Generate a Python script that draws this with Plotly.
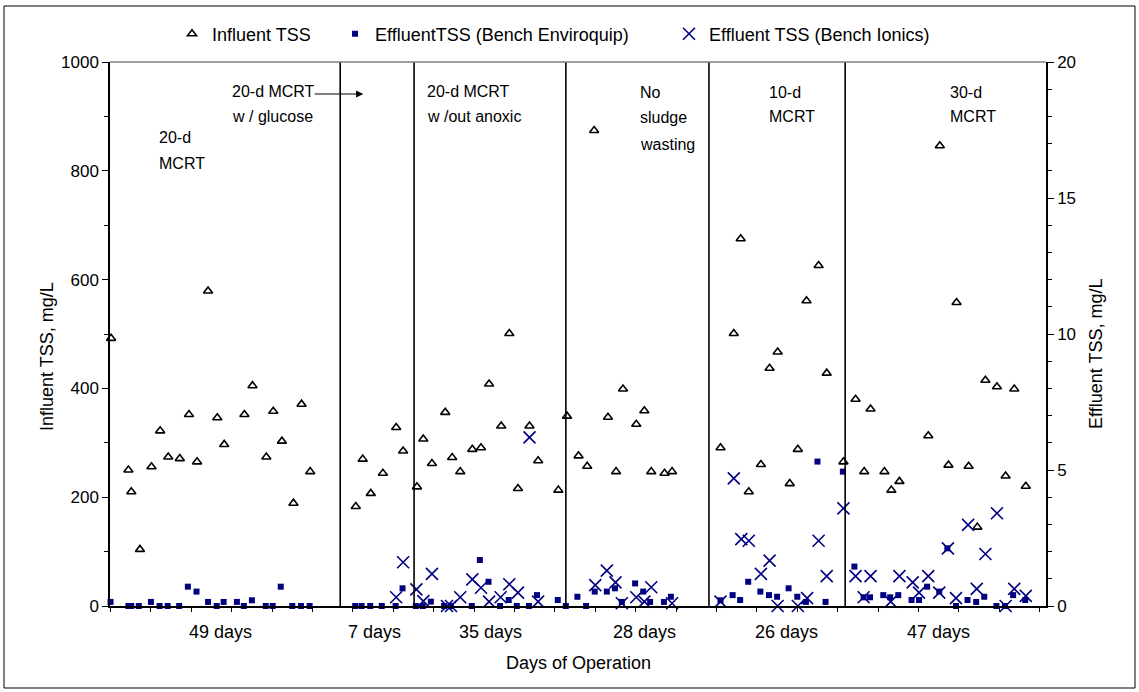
import plotly.graph_objects as go

# ---------------- data ----------------
# x = day of operation (sampling position)
inf_day = [0.1, 3.1, 3.6, 5.1, 7.1, 8.6, 10.0, 12.0, 13.6, 15.0, 16.9, 18.5, 19.7, 23.2, 24.6,
           27.0, 28.2, 29.7, 31.7, 33.1, 34.6,
           42.5, 43.7, 45.1, 47.2, 49.5, 50.7,
           53.1, 54.2, 55.7, 58.0, 59.2, 60.6, 62.7, 64.2, 65.6, 67.7, 69.1, 70.6, 72.6, 74.1, 77.6,
           79.1, 81.1, 82.6, 83.8, 86.2, 87.6, 88.8, 91.1, 92.5, 93.7, 96.0, 97.3,
           105.7, 108.0, 109.2, 110.6, 112.7, 114.2, 115.6, 117.7, 119.1, 120.6, 122.7, 124.1, 127.0,
           129.1, 130.6, 131.7, 134.1, 135.3, 136.7, 141.7, 143.7, 145.2, 146.6, 148.7, 150.2, 151.6,
           153.6, 155.1, 156.6, 158.6]
inf_tss = [492, 250, 210, 104, 256, 322, 274, 271, 352, 265, 579, 346, 297, 352, 405,
           274, 358, 303, 189, 371, 247,
           183, 270, 207, 244, 328, 285,
           219, 307, 262, 356, 273, 247, 288, 291, 408, 331, 501, 216, 331, 267, 213,
           349, 276, 257, 874, 347, 247, 399, 334, 359, 247, 244, 247,
           291, 501, 675, 210, 260, 437, 467, 225, 288, 561, 626, 428, 265,
           380, 247, 362, 247, 213, 229, 313, 846, 259, 558, 257, 145, 415,
           403, 239, 399, 220]

env_day = [0.0, 3.1, 3.6, 4.9, 7.0, 8.5, 9.9, 11.9, 13.4, 14.9, 16.9, 18.4, 19.6, 21.9, 23.1,
           24.5, 26.9, 28.1, 29.5, 31.5, 33.0, 34.5,
           42.4, 43.5, 45.0, 47.0, 49.4, 50.6,
           52.9, 54.1, 55.5, 57.8, 59.0, 62.6, 64.0, 65.5, 67.5, 69.0, 70.4, 72.5, 73.9, 77.5,
           78.9, 80.9, 82.4, 83.9, 86.0, 87.4, 88.6, 90.9, 92.3, 93.5, 95.9, 97.1,
           105.7, 107.8, 109.1, 110.5, 112.6, 114.1, 115.5, 117.5, 119.0, 120.5, 122.5, 123.9, 126.9,
           128.9, 130.5, 131.6, 133.9, 135.1, 136.5, 138.8, 140.1, 141.5, 143.6, 145.0, 146.5,
           148.5, 150.0, 151.4, 153.5, 155.0, 156.4, 158.5]
env_tss = [0.15, 0.0, 0.0, 0.0, 0.15, 0.0, 0.0, 0.0, 0.71, 0.53, 0.15, 0.0, 0.15, 0.15, 0.0,
           0.21, 0.0, 0.0, 0.71, 0.0, 0.0, 0.0,
           0.0, 0.0, 0.0, 0.0, 0.0, 0.65,
           0.0, 0.0, 0.16, 0.0, 0.0, 0.0, 1.69, 0.89, 0.0, 0.22, 0.0, 0.0, 0.40, 0.22,
           0.0, 0.34, 0.0, 0.53, 0.53, 0.65, 0.15, 0.83, 0.53, 0.15, 0.15, 0.34,
           0.21, 0.40, 0.22, 0.89, 0.53, 0.40, 0.34, 0.65, 0.34, 0.15, 5.31, 0.15, 4.94,
           1.45, 0.32, 0.32, 0.40, 0.32, 0.40, 0.22, 0.22, 0.71, 0.53, 2.12, 0.0,
           0.22, 0.15, 0.34, 0.0, 0.0, 0.40, 0.22]

ion_day = [49.5, 50.7,
           53.0, 54.2, 55.7, 58.3, 59.0, 60.6, 62.7, 64.2, 65.6, 67.6, 69.1, 70.6, 72.6, 74.1,
           84.0, 86.0, 87.5, 88.6, 91.1, 92.5, 93.7, 97.3,
           105.7, 108.0, 109.3, 110.6, 112.7, 114.2, 115.6, 119.1, 120.7, 122.7, 124.1, 127.0,
           129.1, 130.5, 131.7, 135.2, 136.7, 139.0, 140.1, 141.7, 143.6, 145.1, 146.5, 148.6,
           150.1, 151.6, 153.6, 155.1, 156.6, 158.6]
ion_tss = [0.32, 1.61,
           0.61, 0.18, 1.18, 0.0, 0.0, 0.32, 0.98, 0.67, 0.16, 0.32, 0.80, 0.49, 6.20, 0.16,
           0.77, 1.30, 0.87, 0.10, 0.32, 0.16, 0.69, 0.10,
           0.16, 4.69, 2.46, 2.40, 1.18, 1.67, 0.0, 0.0, 0.29, 2.40, 1.10, 3.59,
           1.10, 0.32, 1.10, 0.16, 1.10, 0.87, 0.49, 1.10, 0.49, 2.12, 0.29, 2.98,
           0.63, 1.91, 3.41, 0.0, 0.63, 0.37]

phase_bounds = [39.8, 52.6, 78.9, 103.7, 127.3]
phase_label_day = [19.0, 45.7, 65.9, 92.6, 117.2, 143.4]
phase_labels = ["49 days", "7 days", "35 days", "28 days", "26 days", "47 days"]

# ---------------- figure ----------------
W, H = 1139, 692
L, R, T, B = 110, 93, 62, 86
PW, PH = W - L - R, H - T - B
FONT = "Liberation Sans, Arial, sans-serif"
NAVY = "#000080"


def px2paper_y(py):
    return (H - B - py) / PH


def px2paper_x(px):
    return (px - L) / PW


fig = go.Figure()
fig.add_trace(go.Scatter(
    x=inf_day, y=inf_tss, mode="markers", name="Influent TSS", legend="legend",
    marker=dict(symbol="triangle-up-open", size=8, color="black", line=dict(width=1.6, color="black")),
    cliponaxis=False, yaxis="y"))
fig.add_trace(go.Scatter(
    x=env_day, y=env_tss, mode="markers", name="EffluentTSS (Bench Enviroquip)", legend="legend2",
    marker=dict(symbol="square", size=6, color=NAVY),
    cliponaxis=False, yaxis="y2"))
fig.add_trace(go.Scatter(
    x=ion_day, y=ion_tss, mode="markers", name="Effluent TSS (Bench Ionics)", legend="legend3",
    marker=dict(symbol="x-thin-open", size=12, color=NAVY, line=dict(width=1.6, color=NAVY)),
    cliponaxis=False, yaxis="y2"))

shapes = []
for b in phase_bounds:
    shapes.append(dict(type="line", xref="x", yref="paper", x0=b, x1=b, y0=0, y1=1,
                       line=dict(color="black", width=1.6)))
# plot-area top border (grey)
shapes.append(dict(type="line", xref="paper", yref="paper", x0=0, x1=1, y0=1, y1=1,
                   line=dict(color="#808080", width=1.5)))
# outer chart border
shapes.append(dict(type="rect", xref="paper", yref="paper",
                   x0=px2paper_x(4), x1=px2paper_x(1135), y0=px2paper_y(688), y1=px2paper_y(6),
                   line=dict(color="black", width=1), fillcolor="rgba(0,0,0,0)", layer="below"))

ann = []
for d, lab in zip(phase_label_day, phase_labels):
    ann.append(dict(x=d, y=px2paper_y(632), xref="x", yref="paper", text=lab, showarrow=False,
                    xanchor="center", yanchor="middle", font=dict(size=18)))

cond = [
    (8.1, [(138, "20-d"), (163, "MCRT")]),
    (20.7, [(91, "20-d MCRT"), (117, "w / glucose")]),
    (54.5, [(91, "20-d MCRT"), (117, "w /out anoxic")]),
    (91.4, [(92, "No"), (118, "sludge"), (144, "wasting")]),
    (113.8, [(92, "10-d"), (117, "MCRT")]),
    (145.1, [(92, "30-d"), (117, "MCRT")]),
]
for xd, lines in cond:
    for py, txt in lines:
        ann.append(dict(x=xd, y=px2paper_y(py), xref="x", yref="paper", text=txt, showarrow=False,
                        xanchor="left", yanchor="middle", font=dict(size=16)))

# arrow
ann.append(dict(x=43.8, y=px2paper_y(94), xref="x", yref="paper", text="", showarrow=True,
                ax=-50, ay=0, arrowhead=2, arrowsize=1.2, arrowwidth=1.2, arrowcolor="black"))
# axis titles
ann.append(dict(x=px2paper_x(35), y=px2paper_y(357), xref="paper", yref="paper",
                text="Influent TSS, mg/L", textangle=-90, showarrow=False, font=dict(size=18)))
ann.append(dict(x=px2paper_x(1108), y=px2paper_y(354), xref="paper", yref="paper",
                text="Effluent TSS, mg/L", textangle=-90, showarrow=False, font=dict(size=18)))
ann.append(dict(x=0.5, y=px2paper_y(663), xref="paper", yref="paper",
                text="Days of Operation", showarrow=False, yanchor="middle", font=dict(size=18)))

leg_common = dict(orientation="h", yanchor="middle", xanchor="left", y=px2paper_y(34),
                  font=dict(size=18, color="black"), bgcolor="rgba(0,0,0,0)", itemwidth=30)

fig.update_layout(
    width=W, height=H, margin=dict(l=L, r=R, t=T, b=B, autoexpand=False),
    paper_bgcolor="white", plot_bgcolor="white",
    font=dict(family=FONT, size=16, color="black"),
    shapes=shapes, annotations=ann,
    legend=dict(x=px2paper_x(172), **leg_common),
    legend2=dict(x=px2paper_x(335), **leg_common),
    legend3=dict(x=px2paper_x(669), **leg_common),
    xaxis=dict(range=[-0.09, 162.1], tickmode="linear", tick0=0, dtick=7, showticklabels=False,
               ticks="outside", ticklen=4, tickcolor="black", showline=True, linecolor="black",
               linewidth=1.5, showgrid=False, zeroline=False),
    yaxis=dict(range=[0, 1000], dtick=200, ticks="outside", ticklen=6, tickcolor="black",
               minor=dict(dtick=100, ticks="outside", ticklen=4, tickcolor="black"),
               showline=True, linecolor="black", linewidth=1.5, showgrid=False, zeroline=False,
               tickfont=dict(size=17)),
    yaxis2=dict(range=[0, 20], dtick=5, overlaying="y", side="right", ticks="outside", ticklen=6,
                tickcolor="black",
                minor=dict(dtick=1, ticks="outside", ticklen=4, tickcolor="black"),
                showline=True, linecolor="black", linewidth=1.5, showgrid=False, zeroline=False,
                tickfont=dict(size=17)),
    showlegend=True,
)

fig.write_html("out.html")
